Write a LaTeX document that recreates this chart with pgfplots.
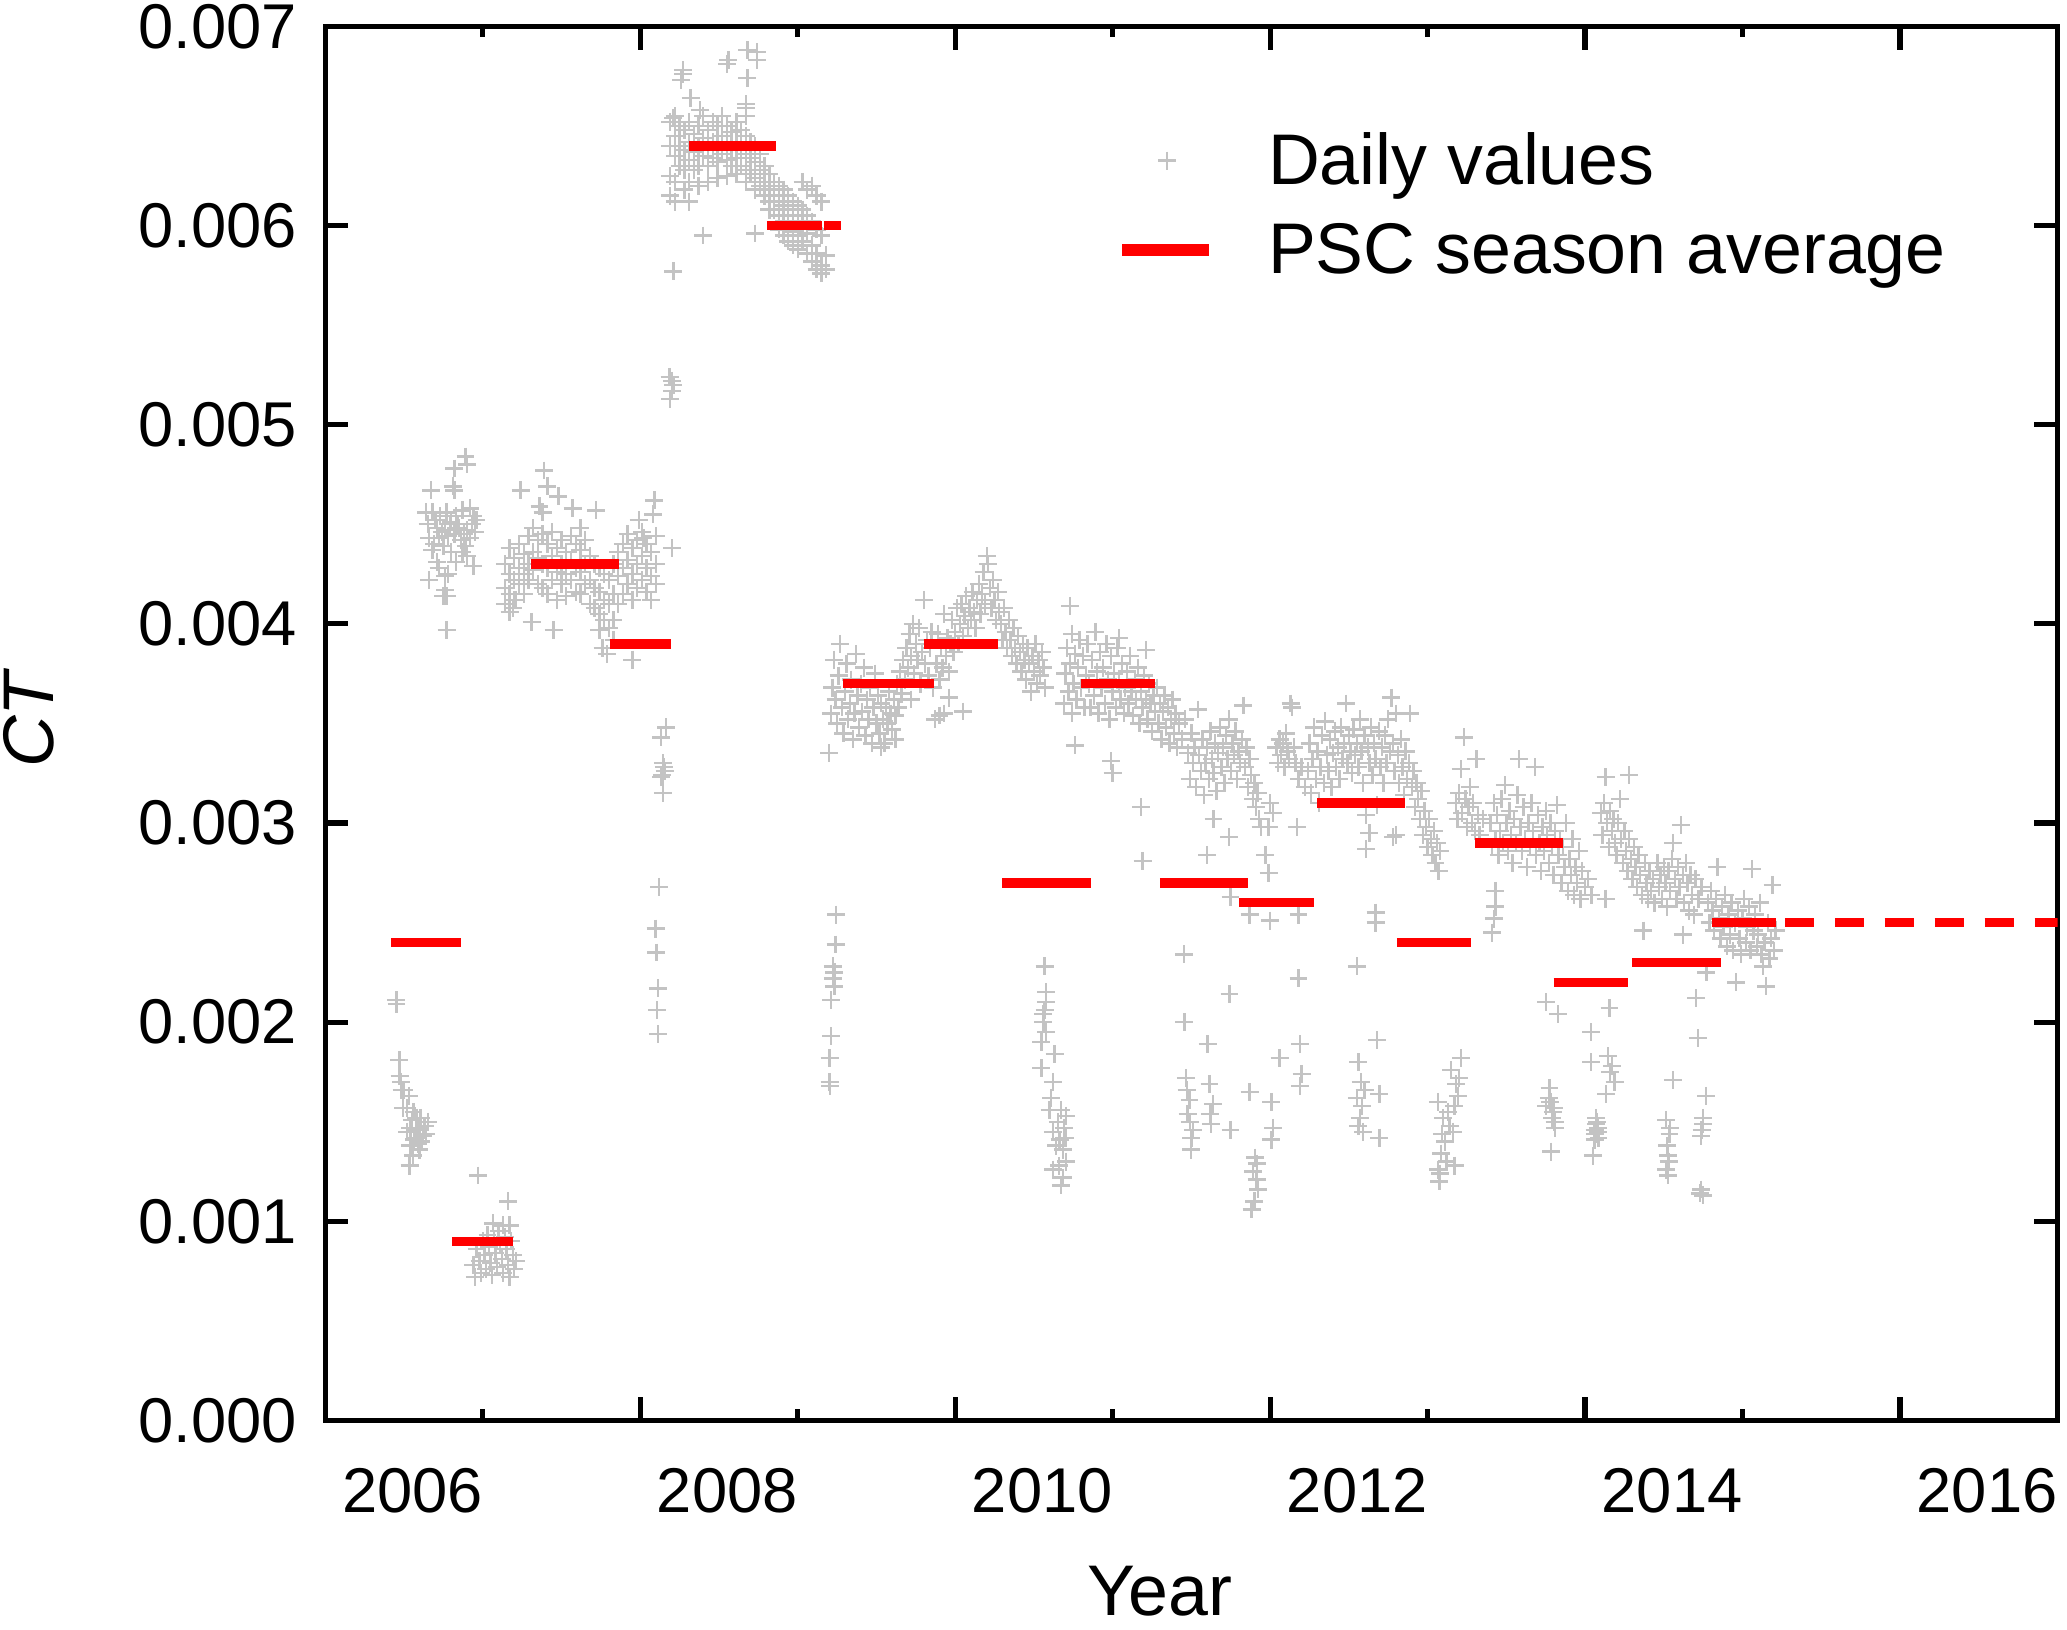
\documentclass[border=0pt]{standalone}
\usepackage{fontspec}
\setmainfont{Liberation Sans}
\usepackage{pgfplots}
\pgfplotsset{compat=1.18}
\definecolor{dgray}{RGB}{195,195,195}
\begin{document}
\begin{tikzpicture}
\begin{axis}[
  scale only axis, width=328.5pt, height=264.4pt,
  xmin=2006, xmax=2017, ymin=0, ymax=7,
  clip marker paths=true,
  axis line style={line width=1pt},
  every tick/.style={black, line width=1pt},
  major tick length=4.4pt, minor tick length=2.1pt,
  tick align=inside,
  xtick pos=both, ytick pos=both,
  xticklabel pos=lower, yticklabel pos=left,
  xtick={2008,2010,2012,2014,2016},
  xticklabels={{},{},{},{},{}},
  minor xtick={2007,2009,2011,2013,2015},
  extra x ticks={2006.553,2008.553,2010.553,2012.553,2014.553,2016.553},
  extra x tick labels={2006,2008,2010,2012,2014,2016},
  extra x tick style={major tick length=0pt, tick style={draw=none}},
  ytick={0,1,2,3,4,5,6,7},
  yticklabels={0.000,0.001,0.002,0.003,0.004,0.005,0.006,0.007},
  ticklabel style={font=\fontsize{12}{14}\selectfont},
  xticklabel style={anchor=base, yshift=-17.5pt},
  yticklabel style={anchor=east, inner sep=0pt, xshift=-5.2pt},
  xlabel={Year}, ylabel={\textit{CT}},
  label style={font=\fontsize{13.6}{16}\selectfont, inner sep=0pt},
  xlabel style={at={(axis description cs:0.4816,-0.1399)}, anchor=base},
  ylabel style={at={(axis description cs:-0.1571,0.504)}, anchor=base},
  legend style={at={(axis description cs:0.4560,0.9291)}, anchor=north west,
    draw=none, fill=none, inner sep=0pt,
    font=\fontsize{13.6}{16}\selectfont,
    nodes={inner sep=0pt, text height=11pt, text depth=2pt},
    row sep=4pt, column sep=10.1pt},
  legend cell align=left,
]
\addplot[only marks, mark=+, mark size=1.7pt, color=dgray, mark options={line width=0.45pt}] table {
x y
2006.451 2.11
2006.452 2.09
2006.470 1.81
2006.472 1.73
2006.480 1.70
2006.484 1.66
2006.500 1.66
2006.530 1.63
2006.494 1.57
2006.520 1.57
2006.560 1.55
2006.578 1.52
2006.550 1.51
2006.600 1.47
2006.520 1.45
2006.640 1.44
2006.575 1.42
2006.610 1.40
2006.540 1.38
2006.598 1.36
2006.556 1.33
2006.535 1.28
2006.630 1.48
2006.650 1.50
2006.585 1.46
2006.620 1.43
2006.565 1.41
2006.605 1.52
2006.540 1.47
2006.590 1.39
2006.89 4.84
2006.90 4.80
2006.82 4.78
2006.81 4.69
2006.82 4.67
2006.67 4.67
2006.64 4.56
2006.68 4.56
2006.73 4.54
2006.77 4.56
2006.83 4.54
2006.87 4.57
2006.92 4.58
2006.94 4.54
2006.96 4.52
2006.65 4.50
2006.71 4.48
2006.76 4.47
2006.80 4.51
2006.85 4.48
2006.90 4.47
2006.95 4.46
2006.66 4.43
2006.72 4.43
2006.78 4.44
2006.82 4.45
2006.86 4.42
2006.92 4.43
2006.68 4.37
2006.75 4.39
2006.80 4.36
2006.89 4.39
2006.71 4.31
2006.83 4.31
2006.90 4.34
2006.94 4.29
2006.66 4.22
2006.72 4.28
2006.76 4.24
2006.78 4.25
2006.75 4.14
2006.77 4.14
2006.76 4.17
2006.77 3.97
2006.70 4.52
2006.74 4.46
2006.79 4.50
2006.84 4.50
2006.88 4.45
2006.93 4.50
2006.69 4.40
2006.87 4.36
2006.969 1.23
2007.160 1.10
2007.065 0.99
2007.128 0.98
2007.170 0.98
2006.94 0.78
2006.95 0.72
2006.96 0.86
2006.98 0.80
2006.99 0.74
2007.00 0.90
2007.01 0.83
2007.02 0.76
2007.03 0.93
2007.04 0.87
2007.05 0.79
2007.06 0.73
2007.07 0.91
2007.08 0.84
2007.09 0.77
2007.10 0.95
2007.11 0.88
2007.12 0.81
2007.13 0.74
2007.14 0.92
2007.15 0.86
2007.16 0.78
2007.17 0.72
2007.18 0.90
2007.19 0.83
2007.20 0.76
2007.21 0.80
2007.39 4.77
2007.41 4.69
2007.24 4.67
2007.48 4.64
2007.36 4.59
2007.38 4.56
2007.57 4.58
2007.72 4.57
2008.09 4.62
2008.08 4.55
2007.99 4.52
2008.20 4.38
2008.02 4.43
2007.62 4.48
2007.31 4.01
2007.45 3.97
2007.74 3.97
2007.83 3.92
2007.76 3.88
2007.95 3.82
2007.79 3.85
2007.19 4.08
2007.21 4.12
2007.14 4.30
2007.14 4.18
2007.14 4.10
2007.17 4.38
2007.17 4.25
2007.17 4.15
2007.17 4.06
2007.20 4.33
2007.20 4.22
2007.20 4.12
2007.23 4.40
2007.23 4.28
2007.23 4.20
2007.26 4.35
2007.26 4.25
2007.26 4.15
2007.29 4.44
2007.29 4.30
2007.29 4.22
2007.32 4.48
2007.32 4.36
2007.32 4.27
2007.35 4.42
2007.35 4.33
2007.35 4.20
2007.38 4.45
2007.38 4.30
2007.38 4.18
2007.41 4.40
2007.41 4.28
2007.41 4.15
2007.44 4.46
2007.44 4.34
2007.44 4.22
2007.47 4.38
2007.47 4.26
2007.47 4.12
2007.50 4.42
2007.50 4.30
2007.50 4.20
2007.53 4.36
2007.53 4.25
2007.53 4.14
2007.56 4.44
2007.56 4.32
2007.56 4.22
2007.59 4.40
2007.59 4.28
2007.59 4.16
2007.62 4.37
2007.62 4.26
2007.62 4.15
2007.65 4.42
2007.65 4.30
2007.65 4.20
2007.68 4.34
2007.68 4.22
2007.68 4.10
2007.71 4.30
2007.71 4.18
2007.71 4.08
2007.74 4.28
2007.74 4.16
2007.74 4.05
2007.77 4.25
2007.77 4.12
2007.77 4.02
2007.80 4.22
2007.80 4.10
2007.80 3.98
2007.83 4.30
2007.83 4.15
2007.83 4.02
2007.86 4.36
2007.86 4.24
2007.86 4.10
2007.89 4.40
2007.89 4.28
2007.89 4.15
2007.92 4.45
2007.92 4.32
2007.92 4.20
2007.95 4.38
2007.95 4.25
2007.95 4.12
2007.98 4.42
2007.98 4.30
2007.98 4.18
2008.01 4.46
2008.01 4.34
2008.01 4.22
2008.04 4.40
2008.04 4.28
2008.04 4.16
2008.07 4.36
2008.07 4.24
2008.07 4.12
2008.10 4.44
2008.10 4.30
2008.10 4.20
2008.165 3.48
2008.133 3.43
2008.144 3.30
2008.150 3.28
2008.155 3.26
2008.140 3.24
2008.133 3.23
2008.144 3.15
2008.119 2.68
2008.097 2.47
2008.102 2.35
2008.112 2.17
2008.106 2.06
2008.112 1.94
2008.186 5.24
2008.200 5.22
2008.210 5.20
2008.200 5.17
2008.190 5.13
2008.210 5.77
2008.400 5.95
2008.730 5.96
2008.310 6.12
2008.74 6.87
2008.68 6.88
2008.56 6.83
2008.55 6.81
2008.68 6.74
2008.74 6.83
2008.27 6.78
2008.26 6.73
2008.27 6.76
2008.32 6.64
2008.38 6.58
2008.67 6.61
2008.67 6.55
2008.21 6.54
2008.67 6.59
2008.19 6.52
2008.19 6.40
2008.19 6.25
2008.19 6.15
2008.22 6.55
2008.22 6.45
2008.22 6.35
2008.22 6.22
2008.22 6.12
2008.25 6.50
2008.25 6.40
2008.25 6.30
2008.28 6.48
2008.28 6.38
2008.28 6.28
2008.28 6.18
2008.31 6.52
2008.31 6.42
2008.31 6.33
2008.31 6.22
2008.34 6.46
2008.34 6.37
2008.34 6.28
2008.37 6.50
2008.37 6.40
2008.37 6.30
2008.37 6.20
2008.40 6.55
2008.40 6.44
2008.40 6.35
2008.43 6.48
2008.43 6.40
2008.43 6.30
2008.43 6.22
2008.46 6.52
2008.46 6.42
2008.46 6.34
2008.49 6.50
2008.49 6.40
2008.49 6.32
2008.49 6.24
2008.52 6.55
2008.52 6.45
2008.52 6.36
2008.55 6.50
2008.55 6.42
2008.55 6.33
2008.55 6.25
2008.58 6.47
2008.58 6.38
2008.58 6.30
2008.61 6.52
2008.61 6.42
2008.61 6.34
2008.61 6.26
2008.64 6.48
2008.64 6.39
2008.64 6.30
2008.67 6.45
2008.67 6.36
2008.67 6.28
2008.67 6.22
2008.70 6.42
2008.70 6.34
2008.70 6.26
2008.73 6.40
2008.73 6.32
2008.73 6.24
2008.73 6.18
2008.76 6.36
2008.76 6.28
2008.76 6.20
2008.79 6.30
2008.79 6.22
2008.79 6.15
2008.82 6.26
2008.82 6.18
2008.82 6.12
2008.82 6.08
2008.85 6.22
2008.85 6.15
2008.85 6.08
2008.88 6.20
2008.88 6.12
2008.88 6.05
2008.88 5.98
2008.91 6.18
2008.91 6.10
2008.91 6.02
2008.91 5.95
2008.94 6.15
2008.94 6.08
2008.94 6.00
2008.94 5.92
2008.97 6.12
2008.97 6.05
2008.97 5.97
2008.97 5.90
2009.00 6.10
2009.00 6.02
2009.00 5.95
2009.00 5.88
2009.03 6.22
2009.03 6.08
2009.03 6.00
2009.03 5.92
2009.06 6.18
2009.06 6.05
2009.06 5.96
2009.06 5.86
2009.09 6.20
2009.09 6.02
2009.09 5.90
2009.09 5.82
2009.12 6.15
2009.12 5.98
2009.12 5.86
2009.12 5.78
2009.15 6.12
2009.15 5.95
2009.15 5.80
2009.15 5.76
2009.18 5.85
2009.18 5.78
2009.244 2.54
2009.240 2.39
2009.223 2.28
2009.233 2.25
2009.223 2.22
2009.233 2.18
2009.213 2.11
2009.213 1.93
2009.202 1.82
2009.202 1.70
2009.206 1.68
2009.20 3.35
2009.21 3.55
2009.22 3.68
2009.23 3.82
2009.24 3.62
2009.25 3.50
2009.26 3.74
2009.27 3.90
2009.28 3.58
2009.29 3.45
2009.30 3.66
2009.31 3.80
2009.32 3.52
2009.33 3.60
2009.34 3.72
2009.35 3.42
2009.36 3.55
2009.37 3.85
2009.38 3.64
2009.39 3.48
2009.40 3.70
2009.41 3.56
2009.42 3.78
2009.43 3.44
2009.44 3.62
2009.45 3.52
2009.46 3.68
2009.47 3.40
2009.48 3.58
2009.49 3.75
2009.50 3.50
2009.51 3.64
2009.52 3.45
2009.53 3.60
2009.54 3.52
2009.55 3.40
2009.56 3.58
2009.57 3.50
2009.58 3.66
2009.59 3.55
2009.60 3.47
2009.61 3.62
2009.62 3.54
2009.63 3.70
2009.64 3.58
2009.65 3.76
2009.66 3.65
2009.67 3.82
2009.68 3.72
2009.69 3.88
2009.70 3.78
2009.71 3.95
2009.72 3.84
2009.73 4.00
2009.74 3.75
2009.75 3.90
2009.76 3.82
2009.77 3.98
2009.78 3.70
2009.79 3.86
2009.80 4.12
2009.81 3.80
2009.82 3.92
2009.83 3.74
2009.84 3.88
2009.85 3.96
2009.86 3.68
2009.53 3.38
2009.62 3.42
2009.72 3.62
2009.87 3.52
2009.90 3.54
2009.88 3.80
2009.89 3.95
2009.90 3.72
2009.91 3.88
2009.92 3.78
2009.93 4.05
2009.94 3.84
2009.95 3.93
2009.96 3.76
2009.97 3.90
2009.98 4.02
2009.99 3.86
2010.00 3.96
2010.01 4.08
2010.02 3.90
2010.03 4.00
2010.04 4.10
2010.05 3.94
2010.06 4.04
2010.07 4.14
2010.08 3.98
2010.09 4.08
2010.10 4.02
2010.11 4.16
2010.12 4.06
2010.13 3.98
2010.14 4.12
2010.15 4.20
2010.16 4.05
2010.17 4.15
2010.18 4.26
2010.19 4.10
2010.20 4.34
2010.21 4.30
2010.22 4.18
2010.23 4.08
2010.24 4.22
2010.25 4.12
2010.26 4.02
2010.27 4.16
2010.28 4.06
2009.93 3.55
2010.05 3.56
2009.96 3.63
2010.29 4.00
2010.30 3.92
2010.31 4.08
2010.32 3.96
2010.33 3.88
2010.34 4.02
2010.35 3.92
2010.36 3.84
2010.37 3.98
2010.38 3.88
2010.39 3.80
2010.40 3.94
2010.41 3.86
2010.42 3.76
2010.43 3.90
2010.44 3.82
2010.45 3.72
2010.46 3.88
2010.47 3.80
2010.48 3.66
2010.49 3.84
2010.50 3.76
2010.51 3.90
2010.52 3.70
2010.53 3.82
2010.54 3.74
2010.55 3.86
2010.56 3.78
2010.57 3.68
2010.568 2.28
2010.578 2.15
2010.568 2.06
2010.557 2.04
2010.578 1.95
2010.547 1.90
2010.631 1.84
2010.547 1.77
2010.620 1.70
2010.599 1.56
2010.673 1.56
2010.705 1.53
2010.620 1.45
2010.663 1.41
2010.684 1.36
2010.705 1.30
2010.620 1.26
2010.684 1.22
2010.652 1.50
2010.640 1.38
2010.690 1.47
2010.610 1.62
2010.560 2.00
2010.575 2.10
2010.700 1.42
2010.660 1.28
2010.670 1.18
2010.69 3.60
2010.70 3.75
2010.71 3.88
2010.72 3.66
2010.73 4.09
2010.73 3.80
2010.74 3.95
2010.74 3.55
2010.75 3.70
2010.76 3.85
2010.76 3.39
2010.77 3.62
2010.78 3.78
2010.79 3.92
2010.80 3.68
2010.81 3.84
2010.82 3.58
2010.83 3.74
2010.84 3.90
2010.85 3.70
2010.86 3.58
2010.87 3.82
2010.88 3.64
2010.89 3.96
2010.90 3.76
2010.91 3.55
2010.92 3.86
2010.93 3.68
2010.94 3.78
2010.95 3.60
2010.96 3.90
2010.97 3.72
2010.98 3.52
2010.99 3.84
2011.00 3.66
2011.01 3.75
2011.02 3.58
2011.03 3.88
2011.04 3.70
2011.05 3.62
2011.06 3.80
2011.07 3.55
2011.08 3.68
2011.09 3.76
2011.10 3.60
2011.11 3.84
2011.12 3.66
2011.13 3.54
2011.14 3.72
2011.15 3.62
2011.16 3.78
2011.17 3.50
2011.18 3.66
2011.19 3.58
2011.20 3.74
2011.21 3.62
2011.22 3.52
2011.23 3.70
2011.24 3.60
2011.25 3.46
2011.26 3.64
2011.27 3.56
2011.28 3.68
2011.29 3.50
2011.30 3.60
2011.31 3.42
2011.32 3.56
2011.33 3.64
2011.34 3.48
2011.35 3.58
2011.36 3.40
2011.37 3.52
2011.38 3.62
2011.39 3.45
2011.40 3.55
2011.41 3.38
2011.42 3.50
2011.44 3.42
2011.46 3.52
2010.99 3.31
2011.00 3.25
2011.18 3.08
2011.19 2.81
2011.04 3.93
2011.21 3.87
2011.48 3.35
2011.49 3.22
2011.50 3.45
2011.51 3.30
2011.52 3.38
2011.53 3.18
2011.54 3.57
2011.55 3.34
2011.56 3.26
2011.57 3.42
2011.58 3.14
2011.59 3.30
2011.60 3.38
2011.61 3.22
2011.62 3.46
2011.63 3.32
2011.64 3.25
2011.65 3.40
2011.66 3.16
2011.67 3.35
2011.68 3.48
2011.69 3.28
2011.70 3.38
2011.71 3.20
2011.72 3.44
2011.73 3.32
2011.74 3.52
2011.75 3.26
2011.76 3.40
2011.77 3.34
2011.78 3.46
2011.79 3.22
2011.80 3.36
2011.81 3.30
2011.82 3.42
2011.83 3.59
2011.84 3.28
2011.85 3.38
2011.86 3.18
2011.87 3.32
2011.88 3.24
2011.89 3.12
2011.90 3.20
2011.91 3.08
2011.92 3.15
2011.93 3.02
2011.94 2.98
2011.64 3.02
2011.60 2.84
2011.74 2.93
2011.97 2.84
2011.99 2.75
2011.99 2.98
2011.454 2.34
2011.455 2.00
2011.603 1.89
2011.465 1.72
2011.488 1.61
2011.476 1.54
2011.509 1.46
2011.498 1.36
2011.615 1.69
2011.636 1.59
2011.625 1.49
2011.748 1.46
2011.742 2.14
2011.748 2.63
2011.470 1.66
2011.490 1.50
2011.500 1.42
2011.620 1.54
2011.870 1.65
2012.008 1.60
2012.019 1.47
2012.008 1.41
2011.903 1.32
2011.893 1.25
2011.924 1.16
2011.882 1.06
2011.914 1.21
2011.900 1.10
2011.915 1.29
2012.060 1.82
2011.870 2.54
2011.998 2.51
2012.180 2.54
2012.180 2.22
2012.190 1.89
2012.200 1.74
2012.190 1.68
2012.550 2.28
2012.670 2.55
2012.680 1.91
2012.694 1.64
2012.694 1.42
2012.670 2.50
2012.560 1.80
2012.575 1.70
2012.585 1.58
2012.570 1.52
2012.560 1.48
2012.590 1.45
2012.550 1.62
2012.600 1.66
2012.17 2.98
2012.63 2.95
2012.61 2.87
2012.78 2.93
2012.00 3.10
2012.02 3.05
2012.04 3.38
2012.05 3.30
2012.06 3.42
2012.07 3.34
2012.08 3.40
2012.09 3.28
2012.10 3.45
2012.11 3.36
2012.12 3.32
2012.13 3.60
2012.14 3.58
2012.15 3.38
2012.16 3.30
2012.18 3.22
2012.20 3.28
2012.22 3.18
2012.24 3.26
2012.25 3.40
2012.26 3.15
2012.27 3.32
2012.28 3.48
2012.29 3.22
2012.30 3.36
2012.31 3.10
2012.32 3.28
2012.33 3.44
2012.34 3.20
2012.35 3.51
2012.36 3.34
2012.37 3.26
2012.38 3.42
2012.39 3.18
2012.40 3.35
2012.41 3.46
2012.42 3.28
2012.43 3.38
2012.44 3.22
2012.45 3.48
2012.46 3.32
2012.47 3.40
2012.48 3.60
2012.49 3.30
2012.50 3.44
2012.51 3.36
2012.52 3.25
2012.53 3.47
2012.54 3.34
2012.55 3.40
2012.56 3.28
2012.57 3.52
2012.58 3.36
2012.59 3.20
2012.60 3.44
2012.61 3.04
2012.62 3.38
2012.63 3.30
2012.64 3.48
2012.65 3.24
2012.66 3.40
2012.67 3.32
2012.68 3.09
2012.69 3.46
2012.70 3.28
2012.71 3.38
2012.72 3.20
2012.73 3.44
2012.74 3.30
2012.75 3.52
2012.76 3.36
2012.77 3.63
2012.78 3.40
2012.79 3.26
2012.80 3.55
2012.81 3.34
2012.80 2.94
2012.82 3.20
2012.83 3.42
2012.84 3.28
2012.85 3.14
2012.86 3.36
2012.87 3.22
2012.88 3.30
2012.89 3.55
2012.90 3.18
2012.91 3.26
2012.92 3.08
2012.93 3.20
2012.94 3.12
2012.95 3.02
2012.96 3.16
2012.97 2.94
2012.98 3.06
2012.99 2.98
2013.00 2.88
2013.01 3.02
2013.02 2.92
2013.03 2.84
2013.04 2.96
2013.05 2.80
2013.06 2.90
2013.07 2.76
2013.08 2.86
2013.213 1.82
2013.150 1.76
2013.181 1.69
2013.065 1.60
2013.097 1.52
2013.160 1.45
2013.086 1.34
2013.065 1.26
2013.171 1.28
2013.075 1.20
2013.128 1.55
2013.192 1.63
2013.110 1.40
2013.140 1.48
2013.170 1.58
2013.200 1.72
2013.090 1.44
2013.120 1.30
2013.080 1.24
2013.18 3.10
2013.19 3.02
2013.20 3.15
2013.21 3.27
2013.22 3.05
2013.23 3.43
2013.24 3.12
2013.25 2.98
2013.26 3.08
2013.27 3.18
2013.28 3.00
2013.29 3.10
2013.30 2.96
2013.31 3.32
2013.32 3.04
2013.33 2.94
2013.35 3.02
2013.41 2.45
2013.42 2.52
2013.43 2.66
2013.43 2.58
2013.40 3.00
2013.41 2.88
2013.42 3.10
2013.43 2.92
2013.44 3.04
2013.45 2.84
2013.46 2.96
2013.47 3.12
2013.48 2.90
2013.49 3.19
2013.50 3.00
2013.51 2.86
2013.52 3.06
2013.53 2.94
2013.54 2.80
2013.55 3.02
2013.56 2.90
2013.57 3.14
2013.58 3.32
2013.59 2.98
2013.60 2.86
2013.61 3.08
2013.62 2.92
2013.63 2.78
2013.64 3.00
2013.65 2.88
2013.66 3.10
2013.67 2.96
2013.68 3.28
2013.69 2.84
2013.70 3.04
2013.71 2.90
2013.72 2.76
2013.73 2.98
2013.74 2.86
2013.75 3.06
2013.76 2.94
2013.77 2.80
2013.78 3.00
2013.79 2.88
2013.80 2.74
2013.81 2.96
2013.82 3.09
2013.83 2.84
2013.84 2.92
2013.85 2.70
2013.86 2.88
2013.87 2.78
2013.88 3.00
2013.89 2.66
2013.90 2.82
2013.91 2.74
2013.92 2.92
2013.93 2.64
2013.94 2.78
2013.95 2.70
2013.96 2.86
2013.97 2.62
2013.98 2.76
2014.00 2.68
2014.02 2.72
2014.04 2.64
2014.13 2.62
2013.753 2.10
2013.827 2.04
2013.774 1.67
2013.795 1.55
2013.806 1.50
2013.785 1.35
2013.753 1.58
2013.78 1.60
2013.79 1.52
2013.80 1.57
2013.77 1.62
2013.81 1.47
2014.038 1.95
2014.144 1.83
2014.038 1.80
2014.155 2.07
2014.187 1.70
2014.134 1.64
2014.070 1.49
2014.081 1.45
2014.060 1.41
2014.049 1.33
2014.070 1.52
2014.080 1.47
2014.065 1.44
2014.075 1.50
2014.060 1.46
2014.085 1.42
2014.160 1.75
2014.170 1.78
2014.10 3.05
2014.11 2.94
2014.12 3.10
2014.13 3.23
2014.14 3.00
2014.15 2.88
2014.16 3.06
2014.17 2.96
2014.18 3.02
2014.19 2.90
2014.20 2.84
2014.21 3.00
2014.22 3.12
2014.23 2.92
2014.24 2.80
2014.25 2.96
2014.26 2.86
2014.27 2.76
2014.28 3.24
2014.28 2.92
2014.29 2.82
2014.30 2.72
2014.31 2.88
2014.32 2.78
2014.33 2.68
2014.34 2.84
2014.35 2.74
2014.36 2.64
2014.37 2.46
2014.38 2.80
2014.39 2.70
2014.40 2.62
2014.41 2.76
2014.42 2.66
2014.43 2.72
2014.44 2.60
2014.46 2.80
2014.47 2.68
2014.48 2.74
2014.49 2.62
2014.50 2.78
2014.51 2.70
2014.52 2.58
2014.53 2.76
2014.54 2.66
2014.55 2.82
2014.56 2.90
2014.57 2.72
2014.58 2.62
2014.59 2.78
2014.60 2.68
2014.61 2.99
2014.62 2.44
2014.62 2.74
2014.63 2.60
2014.64 2.80
2014.65 2.70
2014.66 2.56
2014.67 2.74
2014.68 2.64
2014.69 2.54
2014.70 2.72
2014.72 2.62
2014.74 2.68
2014.77 2.25
2014.557 1.71
2014.515 1.51
2014.536 1.44
2014.525 1.33
2014.515 1.26
2014.525 1.23
2014.520 1.38
2014.530 1.30
2014.540 1.47
2014.705 2.12
2014.716 1.92
2014.769 1.63
2014.748 1.49
2014.737 1.43
2014.737 1.16
2014.748 1.13
2014.740 1.46
2014.750 1.52
2014.730 1.14
2014.78 2.60
2014.79 2.50
2014.80 2.66
2014.81 2.56
2014.82 2.46
2014.83 2.62
2014.84 2.78
2014.85 2.52
2014.86 2.42
2014.87 2.58
2014.88 2.48
2014.89 2.64
2014.90 2.38
2014.91 2.54
2014.92 2.44
2014.93 2.60
2014.94 2.36
2014.95 2.50
2014.96 2.20
2014.97 2.56
2014.98 2.42
2014.99 2.34
2015.00 2.52
2015.01 2.62
2015.02 2.40
2015.03 2.48
2015.04 2.58
2015.05 2.36
2015.06 2.77
2015.07 2.46
2015.08 2.54
2015.09 2.38
2015.10 2.44
2015.11 2.60
2015.12 2.34
2015.13 2.28
2015.14 2.40
2015.15 2.18
2015.16 2.50
2015.17 2.32
2015.18 2.42
2015.19 2.69
2015.20 2.36
2015.21 2.46
};
\addlegendentry{Daily values}
\addplot[red, line width=1.8pt, unbounded coords=jump,
  legend image code/.code={\draw[red, line width=2.2pt] (0pt,0pt) -- (16.5pt,0pt);}] coordinates {
(2006.42,2.4) (2006.86,2.4) (nan,nan)
(2006.806,0.9) (2007.192,0.9) (nan,nan)
(2007.304,4.3) (2007.862,4.3) (nan,nan)
(2007.805,3.9) (2008.193,3.9) (nan,nan)
(2008.307,6.4) (2008.859,6.4) (nan,nan)
(2008.804,6.0) (2009.156,6.0) (nan,nan)
(2009.166,6.0) (2009.276,6.0) (nan,nan)
(2009.29,3.7) (2009.863,3.7) (nan,nan)
(2009.80,3.9) (2010.27,3.9) (nan,nan)
(2010.30,2.7) (2010.86,2.7) (nan,nan)
(2010.80,3.7) (2011.27,3.7) (nan,nan)
(2011.30,2.7) (2011.86,2.7) (nan,nan)
(2011.80,2.6) (2012.28,2.6) (nan,nan)
(2012.30,3.1) (2012.857,3.1) (nan,nan)
(2012.805,2.4) (2013.274,2.4) (nan,nan)
(2013.30,2.9) (2013.86,2.9) (nan,nan)
(2013.80,2.2) (2014.27,2.2) (nan,nan)
(2014.30,2.3) (2014.86,2.3) (nan,nan)
(2014.805,2.5) (2015.213,2.5)
};
\addlegendentry{PSC season average}
\addplot[red, line width=1.8pt, dash pattern=on 5.5pt off 3.98pt, forget plot] coordinates {(2015.268,2.5) (2017,2.5)};
\end{axis}
\pgfresetboundingbox
\path ([shift={(-61.7pt,-39.6pt)}]current axis.south west) rectangle ([shift={(1.8pt,5.0pt)}]current axis.north east);
\end{tikzpicture}
\end{document}
